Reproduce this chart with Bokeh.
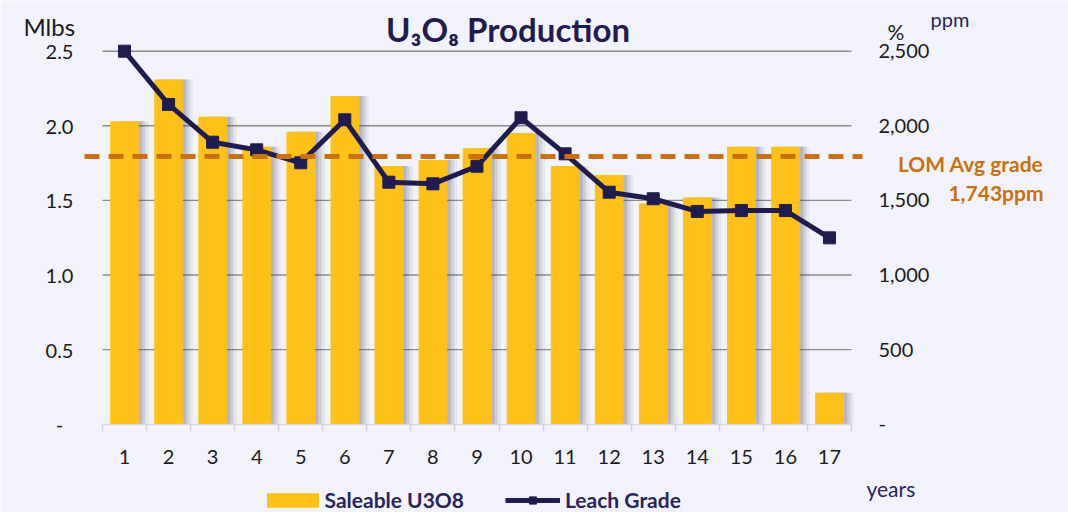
from bokeh.plotting import figure
from bokeh.models import (Range1d, LinearAxis, FixedTicker, Label, Legend,
                          LegendItem, ColumnDataSource)
from bokeh.transform import dodge
from bokeh.embed import file_html
from bokeh.resources import INLINE

# ---------------- data ----------------
years = list(range(1, 18))
saleable_mlbs = [2.03, 2.31, 2.06, 1.86, 1.96, 2.20, 1.73, 1.77, 1.85,
                 1.95, 1.73, 1.67, 1.48, 1.52, 1.86, 1.86, 0.21]
leach_grade_ppm = [2500, 2143, 1890, 1839, 1752, 2040, 1622, 1611, 1729,
                   2054, 1812, 1555, 1511, 1426, 1432, 1432, 1249]
lom_avg_line_ppm = 1795
lom_avg_title = "LOM Avg grade"
lom_avg_label = "1,743ppm"
left_ticks = [0, 0.5, 1.0, 1.5, 2.0, 2.5]
left_tick_labels = ["-\u00a0\u00a0", "0.5", "1.0", "1.5", "2.0", "2.5"]
right_ticks = [0, 500, 1000, 1500, 2000, 2500]
right_tick_labels = ["-", "500", "1,000", "1,500", "2,000", "2,500"]
series_names = ["Saleable U3O8", "Leach Grade"]
chart_title = "U\u2083O\u2088 Production"

# ---------------- style / layout ----------------
W, H = 1068, 512
BG = "#F2F3FA"
GOLD = "#FDC117"
NAVY = "#211C50"
NAVY_TXT = "#29245C"
ORANGE = "#C9700F"
GRID = "#8C8C8C"
TXT = "#1A1A1A"
FONT = "Lato"

X0, X1 = -1.8143, 22.4254          # whole canvas is the frame
Y0, Y1 = -0.5918, 2.8398
PPM_SCALE = 1000.0
LINE_X0, LINE_X1 = 0.092, 17.75    # extent of the dashed average line

p = figure(width=W, height=H, output_backend="svg", toolbar_location=None,
           x_range=Range1d(X0, X1), y_range=Range1d(Y0, Y1),
           min_border=0, background_fill_color=BG, border_fill_color=BG,
           outline_line_color=None)
p.extra_y_ranges = {"ppm": Range1d(Y0 * PPM_SCALE, Y1 * PPM_SCALE)}
p.xgrid.visible = False
p.ygrid.visible = False

n = len(years)

# x axis (drawn at value 0 inside the frame)
xa = p.xaxis[0]
xa.fixed_location = 0
xa.ticker = FixedTicker(ticks=years,
                        minor_ticks=[y - 0.5 for y in years] + [years[-1] + 0.5])
xa.bounds = (0.5, n + 0.5)
xa.axis_line_color = "#D6D6DC"
xa.axis_line_width = 1.5
xa.major_tick_line_color = None
xa.major_tick_in = 0
xa.major_tick_out = 0
xa.minor_tick_line_color = "#D0D0D6"
xa.minor_tick_line_width = 1.5
xa.minor_tick_in = 0
xa.minor_tick_out = 7
xa.major_label_standoff = 19
xa.major_label_text_font = FONT
xa.major_label_text_font_size = "20px"
xa.major_label_text_color = TXT

# left axis
ya = p.yaxis[0]
ya.fixed_location = 0.5
ya.ticker = FixedTicker(ticks=left_ticks)
ya.major_label_overrides = dict(zip(left_ticks, left_tick_labels))
ya.axis_line_color = None
ya.major_tick_line_color = None
ya.minor_tick_line_color = None
ya.major_tick_in = 0
ya.major_tick_out = 0
ya.major_label_standoff = 29
ya.major_label_text_font = FONT
ya.major_label_text_font_size = "20px"
ya.major_label_text_color = TXT

# right axis
ra = LinearAxis(y_range_name="ppm", fixed_location=n + 0.5,
                ticker=FixedTicker(ticks=right_ticks),
                major_label_overrides=dict(zip(right_ticks, right_tick_labels)),
                axis_line_color=None, major_tick_line_color=None,
                minor_tick_line_color=None, major_tick_in=0, major_tick_out=0,
                major_label_standoff=27, major_label_text_font=FONT,
                major_label_text_font_size="20px", major_label_text_color=TXT)
p.add_layout(ra, "right")

# grid lines over the category span
p.segment(x0=0.5, x1=n + 0.5, y0=left_ticks[1:], y1=left_ticks[1:],
          line_color=GRID, line_width=1.4)

src = ColumnDataSource(dict(year=years, saleable=saleable_mlbs, grade=leach_grade_ppm))

# bar shadows
for off, a in [(0.22, 0.08), (0.15, 0.12), (0.08, 0.17)]:
    p.vbar(x=dodge("year", off, range=p.x_range), top="saleable", width=0.65,
           source=src, fill_color="#3A3A55", fill_alpha=a, line_color=None)

bars = p.vbar(x="year", top="saleable", width=0.65, source=src,
              fill_color=GOLD, line_color=None)

ln = p.line("year", "grade", source=src, y_range_name="ppm",
            line_color=NAVY, line_width=5, line_join="round")
mk = p.scatter("year", "grade", source=src, y_range_name="ppm", marker="square",
               size=12, fill_color=NAVY, line_color=NAVY)

# LOM average dashed line
p.segment(x0=LINE_X0, x1=LINE_X1, y0=lom_avg_line_ppm, y1=lom_avg_line_ppm,
          y_range_name="ppm", line_color=ORANGE, line_width=5, line_dash="15 9")


def lab(text, x, y_top, size, color=TXT, bold=False, align="left"):
    p.add_layout(Label(text=text, x=x, y=H - y_top, x_units="screen", y_units="screen",
                       text_font=FONT, text_font_size=size, text_color=color,
                       text_font_style="bold" if bold else "normal",
                       text_align=align, text_baseline="alphabetic"))


lab(chart_title, 507.5, 28.6, "33px", color="#221B50", bold=True, align="center")
lab("Mlbs", 23, 26, "24px")
lab("%", 887, 31, "21px")
lab("ppm", 930, 18.5, "20px", color=NAVY_TXT)
lab("years", 866, 487.5, "21px", color=NAVY_TXT)
lab(lom_avg_title, 1043, 163, "21px", color=ORANGE, bold=True, align="right")
lab(lom_avg_label, 1043, 191.5, "21px", color=ORANGE, bold=True, align="right")

common = dict(orientation="horizontal", glyph_height=18, padding=0, margin=0,
              spacing=0, background_fill_alpha=0, border_line_alpha=0,
              label_text_font=FONT, label_text_font_style="bold",
              label_text_font_size="21px", label_text_color=NAVY_TXT)
leg1 = Legend(items=[LegendItem(label=series_names[0], renderers=[bars])],
              location=(259.5, 0), glyph_width=65, label_standoff=0, **common)
leg2 = Legend(items=[LegendItem(label=series_names[1], renderers=[ln, mk])],
              location=(505, 0), glyph_width=55, label_standoff=5, **common)
p.add_layout(leg1)
p.add_layout(leg2)

open("out.html", "w").write(file_html(p, INLINE))
